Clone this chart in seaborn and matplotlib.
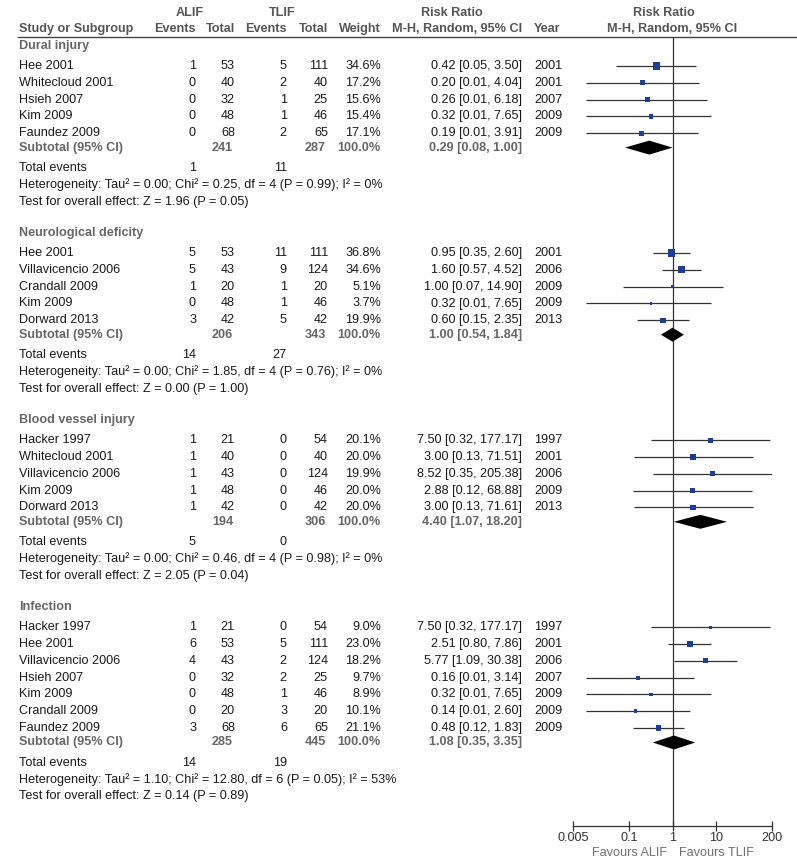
import numpy as np
import pandas as pd
import matplotlib
matplotlib.use("Agg")
import matplotlib.pyplot as plt
import seaborn as sns

# ---- data ----
groups = ["Dural injury", "Neurological deficity", "Blood vessel injury", "Infection"]
group_of = [0] * 5 + [1] * 5 + [2] * 5 + [3] * 7
studies = ["Hee 2001", "Whitecloud 2001", "Hsieh 2007", "Kim 2009", "Faundez 2009",
           "Hee 2001", "Villavicencio 2006", "Crandall 2009", "Kim 2009", "Dorward 2013",
           "Hacker 1997", "Whitecloud 2001", "Villavicencio 2006", "Kim 2009", "Dorward 2013",
           "Hacker 1997", "Hee 2001", "Villavicencio 2006", "Hsieh 2007", "Kim 2009",
           "Crandall 2009", "Faundez 2009"]
alif_events = [1, 0, 0, 0, 0, 5, 5, 1, 0, 3, 1, 1, 1, 1, 1, 1, 6, 4, 0, 0, 0, 3]
alif_total = [53, 40, 32, 48, 68, 53, 43, 20, 48, 42, 21, 40, 43, 48, 42, 21, 53, 43, 32, 48, 20, 68]
tlif_events = [5, 2, 1, 1, 2, 11, 9, 1, 1, 5, 0, 0, 0, 0, 0, 0, 5, 2, 2, 1, 3, 6]
tlif_total = [111, 40, 25, 46, 65, 111, 124, 20, 46, 42, 54, 40, 124, 46, 42, 54, 111, 124, 25, 46, 20, 65]
weight = [34.6, 17.2, 15.6, 15.4, 17.1, 36.8, 34.6, 5.1, 3.7, 19.9,
          20.1, 20.0, 19.9, 20.0, 20.0, 9.0, 23.0, 18.2, 9.7, 8.9, 10.1, 21.1]
rr = [0.42, 0.20, 0.26, 0.32, 0.19, 0.95, 1.60, 1.00, 0.32, 0.60,
      7.50, 3.00, 8.52, 2.88, 3.00, 7.50, 2.51, 5.77, 0.16, 0.32, 0.14, 0.48]
ci_low = [0.05, 0.01, 0.01, 0.01, 0.01, 0.35, 0.57, 0.07, 0.01, 0.15,
          0.32, 0.13, 0.35, 0.12, 0.13, 0.32, 0.80, 1.09, 0.01, 0.01, 0.01, 0.12]
ci_high = [3.50, 4.04, 6.18, 7.65, 3.91, 2.60, 4.52, 14.90, 7.65, 2.35,
           177.17, 71.51, 205.38, 68.88, 71.61, 177.17, 7.86, 30.38, 3.14, 7.65, 2.60, 1.83]
year = [2001, 2001, 2007, 2009, 2009, 2001, 2006, 2009, 2009, 2013,
        1997, 2001, 2006, 2009, 2013, 1997, 2001, 2006, 2007, 2009, 2009, 2009]

sub_alif_total = [241, 206, 194, 285]
sub_tlif_total = [287, 343, 306, 445]
sub_rr = [0.29, 1.00, 4.40, 1.08]
sub_low = [0.08, 0.54, 1.07, 0.35]
sub_high = [1.00, 1.84, 18.20, 3.35]
tot_alif_events = [1, 14, 5, 14]
tot_tlif_events = [11, 27, 0, 19]
heterogeneity = ["Tau² = 0.00; Chi² = 0.25, df = 4 (P = 0.99); I² = 0%",
                 "Tau² = 0.00; Chi² = 1.85, df = 4 (P = 0.76); I² = 0%",
                 "Tau² = 0.00; Chi² = 0.46, df = 4 (P = 0.98); I² = 0%",
                 "Tau² = 1.10; Chi² = 12.80, df = 6 (P = 0.05); I² = 53%"]
overall_z = ["Z = 1.96 (P = 0.05)", "Z = 0.00 (P = 1.00)",
             "Z = 2.05 (P = 0.04)", "Z = 0.14 (P = 0.89)"]
xticks = [0.005, 0.1, 1, 10, 200]
xtick_labels = ["0.005", "0.1", "1", "10", "200"]

# ---- layout (pixel rows) ----
W, H = 797, 865
row_y = []
sub_y, tot_y, het_y, test_y, head_y = [], [], [], [], []
y = 46
for g in range(len(groups)):
    head_y.append(y)
    y += 20
    n = group_of.count(g)
    for i in range(n):
        row_y.append(y)
        if i < n - 1:
            y += 16.8
    y += 14.4
    sub_y.append(y)
    y += 20.3
    tot_y.append(y)
    y += 16.8
    het_y.append(y)
    y += 16.8
    test_y.append(y)
    y += 31.6

df = pd.DataFrame({"study": studies, "group": group_of, "rr": rr, "lo": ci_low,
                   "hi": ci_high, "w": weight, "y": row_y})

sns.set_style("white")
plt.rcParams["font.family"] = ["Liberation Sans", "DejaVu Sans"]
fs = 9.1
dark = "#1a1a1a"
grey = "#666666"

fig = plt.figure(figsize=(W / 100, H / 100), dpi=100)
tax = fig.add_axes([0, 0, 1, 1])
tax.set_xlim(0, W)
tax.set_ylim(H, 0)
tax.axis("off")

def txt(x, yy, s, ha="left", bold=False, color=dark):
    tax.text(x, yy, s, ha=ha, va="center", fontsize=fs,
             fontweight="bold" if bold else "normal", color=color)

# header
hc = "#555555"
txt(190, 13, "ALIF", "center", True, hc)
txt(282, 13, "TLIF", "center", True, hc)
txt(452, 13, "Risk Ratio", "center", True, hc)
txt(664, 13, "Risk Ratio", "center", True, hc)
txt(19, 29, "Study or Subgroup", "left", True, hc)
txt(196, 29, "Events", "right", True, hc)
txt(235, 29, "Total", "right", True, hc)
txt(287, 29, "Events", "right", True, hc)
txt(328, 29, "Total", "right", True, hc)
txt(381, 29, "Weight", "right", True, hc)
txt(522, 29, "M-H, Random, 95% CI", "right", True, hc)
txt(534, 29, "Year", "left", True, hc)
txt(672, 29, "M-H, Random, 95% CI", "center", True, hc)
tax.plot([18, W], [37, 37], color="#444444", lw=1.0)

# table body
for i in range(len(studies)):
    yy = row_y[i]
    txt(19, yy, studies[i])
    txt(196, yy, str(alif_events[i]), "right")
    txt(235, yy, str(alif_total[i]), "right")
    txt(287, yy, str(tlif_events[i]), "right")
    txt(328, yy, str(tlif_total[i]), "right")
    txt(381, yy, f"{weight[i]:.1f}%", "right")
    txt(522, yy, f"{rr[i]:.2f} [{ci_low[i]:.2f}, {ci_high[i]:.2f}]", "right")
    txt(534, yy, str(year[i]))

for g in range(len(groups)):
    txt(19, head_y[g], groups[g], bold=True, color=grey)
    txt(19, sub_y[g], "Subtotal (95% CI)", bold=True, color=grey)
    txt(233, sub_y[g], str(sub_alif_total[g]), "right", True, grey)
    txt(326, sub_y[g], str(sub_tlif_total[g]), "right", True, grey)
    txt(381, sub_y[g], "100.0%", "right", True, grey)
    txt(522, sub_y[g], f"{sub_rr[g]:.2f} [{sub_low[g]:.2f}, {sub_high[g]:.2f}]", "right", True, grey)
    txt(19, tot_y[g], "Total events")
    txt(196, tot_y[g], str(tot_alif_events[g]), "right")
    txt(287, tot_y[g], str(tot_tlif_events[g]), "right")
    txt(19, het_y[g], "Heterogeneity: " + heterogeneity[g])
    txt(19, test_y[g], "Test for overall effect: " + overall_z[g])

txt(667, 853, "Favours ALIF", "right", color="#707070")
txt(679, 853, "Favours TLIF", "left", color="#707070")

# forest panel
x0, x1, ytop, ybot = 573, 772, 37, 826
ax = fig.add_axes([x0 / W, 1 - ybot / H, (x1 - x0) / W, (ybot - ytop) / H])
ax.patch.set_alpha(0)
ax.set_xscale("log")
ax.set_xlim(0.005, 200)
ax.set_ylim(ybot, ytop)

ax.hlines(df["y"], df["lo"], df["hi"], color="#333333", lw=0.9)
side_pt = 1.2 * np.sqrt(df["w"]) * 0.72
sns.scatterplot(data=df, x="rr", y="y", marker="s", color="#1c3f94",
                s=side_pt ** 2, linewidth=0, ax=ax, legend=False, zorder=3)
for g in range(len(groups)):
    yc = sub_y[g]
    ax.fill([sub_low[g], sub_rr[g], sub_high[g], sub_rr[g]],
            [yc, yc - 7, yc, yc + 7], color="black", lw=0, zorder=4)
ax.axvline(1, color="#333333", lw=0.9)

for s in ["top", "right", "left"]:
    ax.spines[s].set_visible(False)
ax.spines["bottom"].set_color("#333333")
ax.spines["bottom"].set_linewidth(0.9)
ax.set_xticks(xticks)
ax.set_xticklabels(xtick_labels)
ax.minorticks_off()
ax.set_yticks([])
ax.tick_params(axis="x", direction="inout", length=7, width=0.9, color="#333333",
               labelsize=fs, labelcolor="#333333", pad=1, bottom=True)
ax.set_xlabel("")
ax.set_ylabel("")

fig.savefig("out.png", dpi=100)
